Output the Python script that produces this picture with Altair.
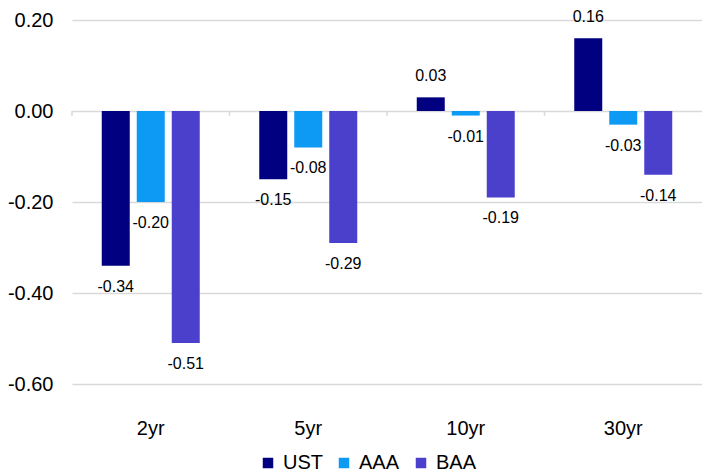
import altair as alt
import pandas as pd

tenors = ["2yr", "5yr", "10yr", "30yr"]
series = ["UST", "AAA", "BAA"]
ust = [-0.34, -0.15, 0.03, 0.16]
aaa = [-0.20, -0.08, -0.01, -0.03]
baa = [-0.51, -0.29, -0.19, -0.14]
colors = ["#000080", "#0c9af5", "#4b40cc"]

rows = []
for name, vals in zip(series, [ust, aaa, baa]):
    for t, v in zip(tenors, vals):
        rows.append({"tenor": t, "series": name, "value": v,
                     "label": f"{v:.2f}"})
df = pd.DataFrame(rows)

FONT = "Liberation Sans"
GRID = "#d9d9d9"

x = alt.X("tenor:N", sort=tenors, title=None,
          scale=alt.Scale(paddingInner=0, paddingOuter=0),
          axis=alt.Axis(labelFontSize=20, labelFont=FONT, labelColor="#000",
                        labelPadding=34, ticks=False, domain=False, labelAngle=0,
                        grid=False))
xo = alt.XOffset("series:N", sort=series,
                 scale=alt.Scale(paddingInner=0.2, paddingOuter=0.85))
y = alt.Y("value:Q", title=None,
          scale=alt.Scale(domain=[-0.6, 0.2], nice=False, zero=False),
          axis=alt.Axis(values=[-0.6, -0.4, -0.2, 0, 0.2],
                        labelExpr="datum.value < 0 ? '-' + format(-datum.value, '.2f') : format(datum.value, '.2f')",
                        labelFontSize=20, labelFont=FONT, labelColor="#000",
                        labelPadding=19, ticks=False, domain=False,
                        grid=True, gridColor=GRID, gridWidth=1.5))

bars = alt.Chart(df).mark_bar().encode(
    x=x, xOffset=xo, y=y, y2=alt.datum(0),
    color=alt.Color("series:N", sort=series,
                    scale=alt.Scale(domain=series, range=colors),
                    legend=alt.Legend(title=None, orient="none", direction="horizontal",
                                      legendX=186, legendY=433,
                                      symbolType="square", symbolSize=110,
                                      symbolStrokeWidth=0,
                                      labelFontSize=20, labelFont=FONT,
                                      labelColor="#000", columnPadding=11,
                                      labelOffset=5))
)

neg_text = alt.Chart(df).transform_filter("datum.value < 0").mark_text(
    baseline="top", dy=13, fontSize=16, font=FONT, color="#000"
).encode(x=x, xOffset=xo, y=y, text="label:N")

pos_text = alt.Chart(df).transform_filter("datum.value >= 0").mark_text(
    baseline="bottom", dy=-13, fontSize=16, font=FONT, color="#000"
).encode(x=x, xOffset=xo, y=y, text="label:N")

ticks_df = pd.DataFrame({"tenor": tenors})
zero_ticks = alt.Chart(ticks_df).mark_rule(color=GRID, strokeWidth=1.5, y2Offset=5).encode(
    x=alt.X("tenor:N", sort=tenors, bandPosition=0),
    y=alt.datum(0), y2=alt.datum(0))

chart = alt.layer(bars, zero_ticks, neg_text, pos_text).properties(
    width=630, height=364,
    autosize=alt.AutoSizeParams(type="none"),
    padding={"left": 72, "top": 20, "right": 0, "bottom": 88},
    background="white"
).configure_view(stroke=None)

chart.save("out.html", embed_options={"renderer": "svg", "actions": False})
